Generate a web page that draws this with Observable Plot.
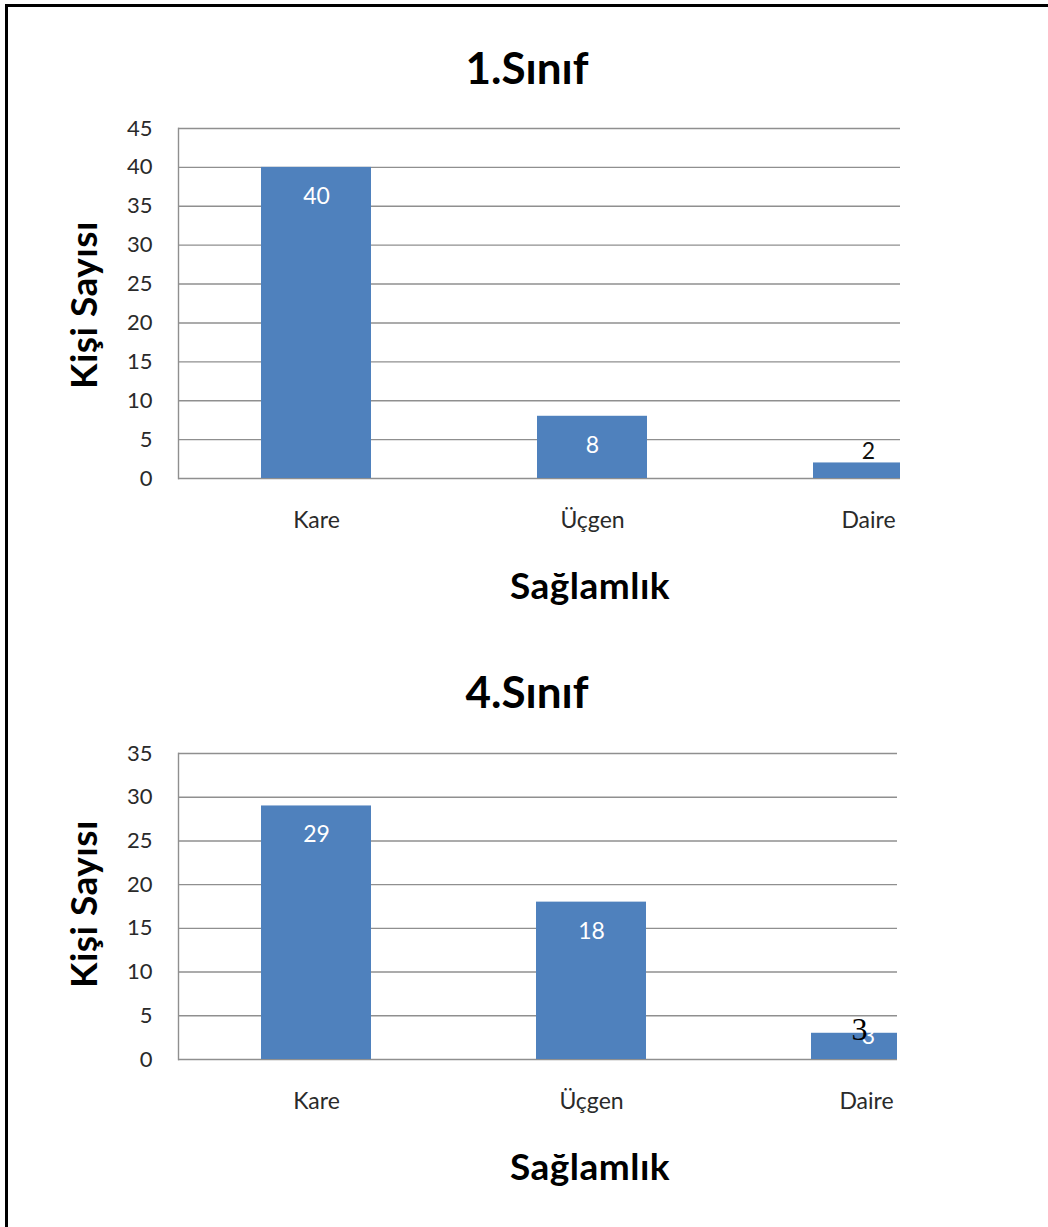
<!DOCTYPE html>
<html lang="tr">
<head>
<meta charset="utf-8">
<script src="https://cdn.jsdelivr.net/npm/d3@7"></script>
<script src="https://cdn.jsdelivr.net/npm/@observablehq/plot@0.6"></script>
<style>
  body { margin: 0; background: #fff; }
  #page { position: relative; width: 1048px; height: 1227px; overflow: hidden; background: #fff;
          font-family: Lato, "Open Sans", sans-serif; }
  .rule-top { position: absolute; left: 5px; top: 4px; width: 1043px; height: 3px; background: #000; }
  .rule-left { position: absolute; left: 5px; top: 4px; width: 3px; height: 1223px; background: #000; }
  .txt { position: absolute; font-weight: 700; color: #000; white-space: nowrap; line-height: 1;
         transform: translate(-50%, -50%); }
  .title { font-size: 44px; }
  .xlabel { font-size: 37px; letter-spacing: 0.5px; }
  .ylabel { font-size: 37px; letter-spacing: 0.5px; transform: translate(-50%, -50%) rotate(-90deg); }
  .chart { position: absolute; left: 0; }
</style>
</head>
<body>
<div id="page">
  <div class="rule-top"></div>
  <div class="rule-left"></div>
</div>
<script>
// Categories and counts for each grade
const categories = ["Kare", "Üçgen", "Daire"];
const sinif1 = [40, 8, 2];
const sinif4 = [29, 18, 3];
const yTicks1 = [0, 5, 10, 15, 20, 25, 30, 35, 40, 45];
const yTicks4 = [0, 5, 10, 15, 20, 25, 30, 35];
const titles = ["1.Sınıf", "4.Sınıf"];
const xTitle = "Sağlamlık";
const yTitle = "Kişi Sayısı";

const page = document.getElementById("page");
const BAR = "#4F81BD";
const GRID = "#8f8f8f";
const FONT = "Lato, 'Open Sans', sans-serif";

function addText(cls, text, x, y) {
  const el = document.createElement("div");
  el.className = "txt " + cls;
  el.textContent = text;
  el.style.left = x + "px";
  el.style.top = y + "px";
  page.appendChild(el);
}

function barChart({values, ticks, top, height, marginTop, marginBottom, xRange, frameRight, extra = []}) {
  const data = categories.map((category, i) => ({category, value: values[i]}));
  const yMax = ticks[ticks.length - 1];
  const px = (height - marginTop - marginBottom) / yMax;
  // label placement depends on how tall the bar is on screen
  const inside = data.filter(d => d.value * px >= 40);
  const straddle = data.filter(d => d.value * px >= 20 && d.value * px < 40);
  const above = data.filter(d => d.value * px < 20);

  const svg = Plot.plot({
    width: 1048,
    height,
    marginTop,
    marginBottom,
    marginLeft: 178,
    marginRight: 1048 - frameRight,
    x: {domain: categories, range: xRange, paddingInner: 0.6, paddingOuter: 0.3},
    y: {domain: [0, yMax]},
    style: {fontFamily: FONT, background: "transparent"},
    marks: [
      Plot.ruleY(ticks, {stroke: GRID, strokeWidth: 1.4}),
      Plot.barY(data, {x: "category", y: "value", fill: BAR, clip: "frame"}),
      Plot.frame({anchor: "left", stroke: GRID, strokeWidth: 1.4}),
      Plot.axisY(ticks, {tickSize: 0, tickPadding: 26, fontSize: 22, color: "#2a2a2a", label: null}),
      Plot.axisX({tickSize: 0, tickPadding: 33, fontSize: 23, color: "#2a2a2a", label: null}),
      Plot.text(inside, {x: "category", y: "value", text: d => String(d.value), dy: 29,
        lineAnchor: "middle", fill: "white", fontSize: 23}),
      Plot.text(straddle, {x: "category", y: "value", text: d => String(d.value), dy: 3, dx: 2,
        lineAnchor: "middle", fill: "white", fontSize: 23}),
      Plot.text(above, {x: "category", y: "value", text: d => String(d.value), dy: -11,
        lineAnchor: "middle", fill: "#111", fontSize: 23}),
      ...extra.map(f => f(data))
    ]
  });
  svg.classList.add("chart");
  svg.style.top = top + "px";
  page.appendChild(svg);
}

// 1. Sınıf
addText("title", titles[0], 527, 67);
barChart({values: sinif1, ticks: yTicks1, top: 100, height: 460, marginTop: 28, marginBottom: 82,
  xRange: [178, 1006], frameRight: 900});
addText("ylabel", yTitle, 82, 305);
addText("xlabel", xTitle, 590, 584);

// 4. Sınıf — the Daire count is retyped in a serif face over its bar
addText("title", titles[1], 527, 691);
barChart({values: sinif4, ticks: yTicks4, top: 720, height: 420, marginTop: 33, marginBottom: 81,
  xRange: [178, 1003], frameRight: 897,
  extra: [data => Plot.text(data.filter(d => d.category === "Daire"), {x: "category", y: "value",
    text: d => String(d.value), dy: -4, dx: -7, lineAnchor: "middle", fill: "#000",
    fontSize: 32, fontFamily: "'Liberation Serif', 'DejaVu Serif', serif"})]});
addText("ylabel", yTitle, 82, 904);
addText("xlabel", xTitle, 590, 1165);
</script>
</body>
</html>
